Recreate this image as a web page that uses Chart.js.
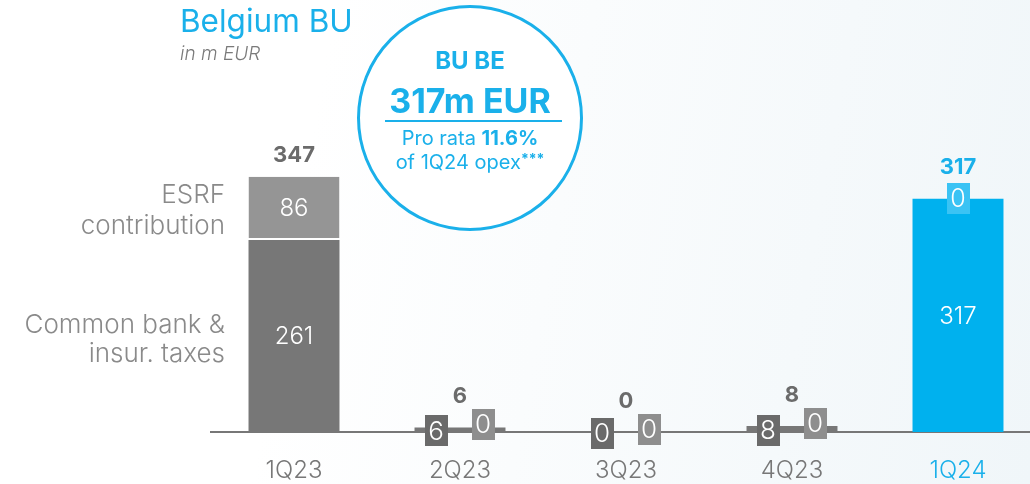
<!DOCTYPE html>
<html><head><meta charset="utf-8">
<script src="https://cdn.jsdelivr.net/npm/chart.js@4"></script>
<style>
html,body{margin:0;padding:0;width:1030px;height:484px;overflow:hidden;}
body{background:linear-gradient(100deg,#ffffff 0%,#ffffff 30%,#f0f6f9 100%);position:relative;font-family:Inter,"Noto Sans",sans-serif;}
#wrap{position:absolute;left:0;top:0;width:1041px;height:484px;}
.t{position:absolute;white-space:nowrap;line-height:1;}
#circle{position:absolute;left:357px;top:5px;width:220px;height:220px;border:3px solid #1ab0ea;border-radius:50%;background:#ffffff;}
.c{position:absolute;left:357px;width:226px;text-align:center;color:#1ab0ea;white-space:nowrap;line-height:1;}
.ann{position:absolute;right:805px;text-align:right;color:#8a8a8a;font-size:26px;font-weight:300;line-height:1;white-space:nowrap;}
</style></head>
<body>
<div id="wrap"><canvas id="c" width="1041" height="484"></canvas></div>
<div class="t" style="left:180px;top:5px;font-size:31.5px;color:#1ab0ea;font-weight:400;">Belgium BU</div>
<div class="t" style="left:180px;top:43.5px;font-size:19px;color:#7a7a7a;font-style:italic;font-weight:300;">in m EUR</div>
<div id="circle"></div>
<div class="c" style="top:49px;font-size:24px;font-weight:700;">BU BE</div>
<div class="c" style="top:83.5px;font-size:34px;font-weight:700;">317m EUR</div>
<div style="position:absolute;left:385px;top:120px;width:177px;height:2px;background:#1ab0ea;"></div>
<div class="c" style="top:128px;font-size:20px;font-weight:400;">Pro rata <b>11.6%</b></div>
<div class="c" style="top:152px;font-size:20px;font-weight:400;">of 1Q24 opex<b style="font-size:14px;vertical-align:5px;">***</b></div>
<div class="ann" style="top:180.5px;">ESRF</div>
<div class="ann" style="top:211.5px;">contribution</div>
<div class="ann" style="top:310.5px;">Common bank &amp;</div>
<div class="ann" style="top:339.5px;">insur. taxes</div>
<script>
const categories = ['1Q23','2Q23','3Q23','4Q23','1Q24'];
const commonTaxes = [261, 6, 0, 8, 317];
const esrfContribution = [86, 0, 0, 0, 0];
const totals = [347, 6, 0, 8, 317];

const FONT = 'Inter, "Noto Sans", sans-serif';
const GREY_DARK = '#777777', GREY_LIGHT = '#959595', CYAN = '#00b1ee';
const BOX_DARK = '#6a6a6a', BOX_LIGHT = '#8e8e8e', BOX_CYAN = '#3ac3f4';
const lastIdx = categories.length - 1;

function box(ctx, x, y, color, text, size) {
  const w = 23, h = 31;
  ctx.fillStyle = color;
  ctx.fillRect(Math.round(x - w/2), Math.round(y - h/2), w, h);
  ctx.fillStyle = '#ffffff';
  ctx.font = '300 ' + size + 'px ' + FONT;
  ctx.textAlign = 'center'; ctx.textBaseline = 'middle';
  ctx.fillText(text, x, y + 1);
}

const labelPlugin = {
  id: 'labels',
  afterDatasetsDraw(chart) {
    const ctx = chart.ctx;
    const y = chart.scales.y;
    const m0 = chart.getDatasetMeta(0);
    ctx.save();
    categories.forEach((cat, i) => {
      const x = m0.data[i].x;
      const base = y.getPixelForValue(0);
      const top0 = y.getPixelForValue(commonTaxes[i]);
      const top1 = y.getPixelForValue(commonTaxes[i] + esrfContribution[i]);
      const big0 = (base - top0) > 40;
      const big1 = (top0 - top1) > 40;
      let topBox = false;
      if (big0) {
        ctx.fillStyle = '#ffffff'; ctx.font = '300 24px ' + FONT;
        ctx.textAlign = 'center'; ctx.textBaseline = 'middle';
        ctx.fillText(String(commonTaxes[i]), x, (base + top0) / 2 + 1);
      } else {
        box(ctx, x - 24, (base + top0) / 2 + 1, BOX_DARK, String(commonTaxes[i]), 26);
      }
      if (big1) {
        ctx.fillStyle = '#ffffff'; ctx.font = '300 24px ' + FONT;
        ctx.textAlign = 'center'; ctx.textBaseline = 'middle';
        ctx.fillText(String(esrfContribution[i]), x, (top0 + top1) / 2 + 1);
      } else if (big0) {
        box(ctx, x, top1, i === lastIdx ? BOX_CYAN : BOX_LIGHT, String(esrfContribution[i]), 25);
        topBox = true;
      } else {
        box(ctx, x + 23, top1 - 3, BOX_LIGHT, String(esrfContribution[i]), 26);
        topBox = true;
      }
      ctx.fillStyle = i === lastIdx ? '#1ab0ea' : '#6b6b6b';
      ctx.font = '700 22px ' + FONT;
      ctx.textAlign = 'center'; ctx.textBaseline = 'middle';
      ctx.fillText(String(totals[i]), x, top1 - (topBox ? 31 : 21));
    });
    ctx.restore();
  }
};

new Chart(document.getElementById('c'), {
  type: 'bar',
  data: {
    labels: categories,
    datasets: [
      { label: 'Common bank & insur. taxes', data: commonTaxes,
        backgroundColor: categories.map((c, i) => i === lastIdx ? CYAN : GREY_DARK),
        borderWidth: 0 },
      { label: 'ESRF contribution', data: esrfContribution,
        backgroundColor: categories.map((c, i) => i === lastIdx ? CYAN : GREY_LIGHT),
        borderColor: '#ffffff', borderWidth: {top: 0, left: 0, right: 0, bottom: 2}, borderSkipped: false }
    ]
  },
  options: {
    responsive: false, devicePixelRatio: 1, animation: false,
    layout: { padding: { left: 211, right: 0, top: 0, bottom: 0 } },
    datasets: { bar: { categoryPercentage: 1, barPercentage: 0.548 } },
    plugins: { legend: { display: false }, tooltip: { enabled: false } },
    scales: {
      x: { stacked: true,
        grid: { display: false, drawTicks: false },
        border: { display: true, color: '#777777', width: 2 },
        ticks: { color: (c) => c.index === lastIdx ? '#1ab0ea' : '#777777',
                 font: { family: FONT, size: 24, weight: 300 }, padding: 24 },
        afterFit(s) { s.height = 52; } },
      y: { stacked: true, display: false, min: 0, max: 587 }
    }
  },
  plugins: [labelPlugin]
});
</script>
</body></html>
